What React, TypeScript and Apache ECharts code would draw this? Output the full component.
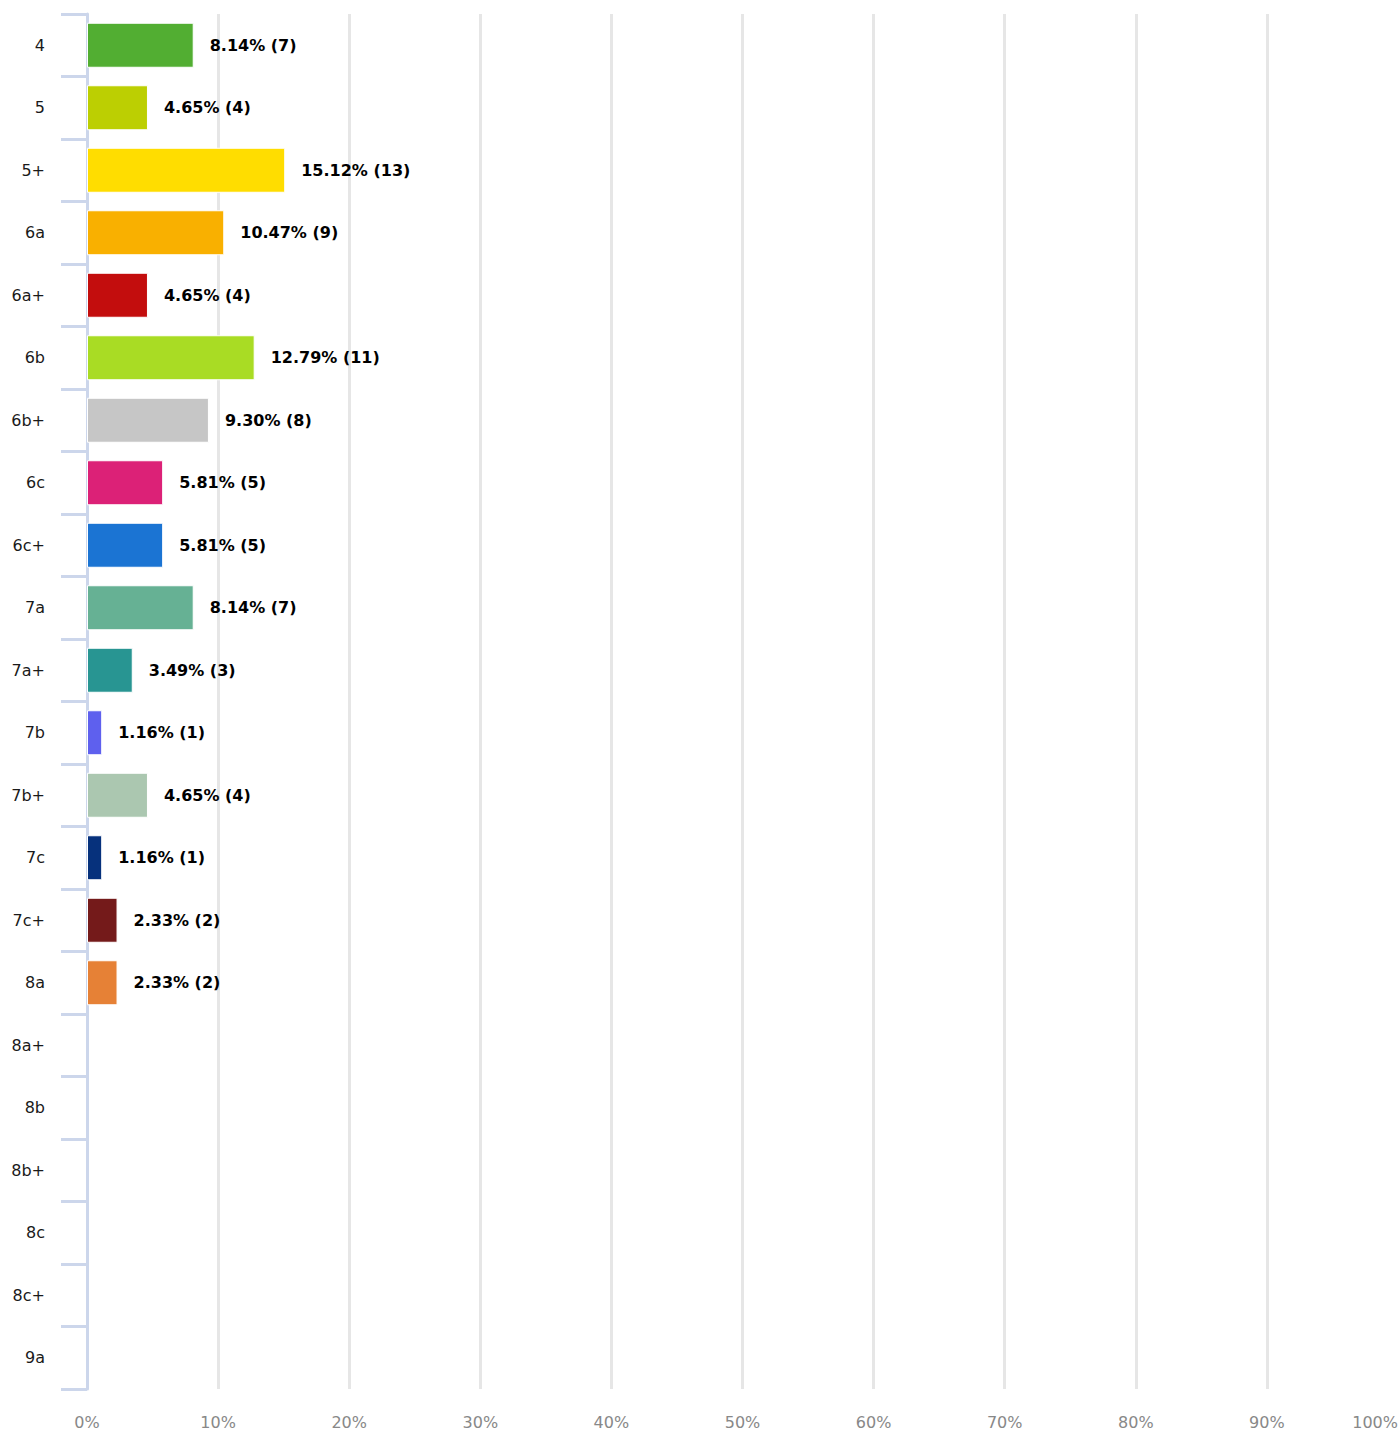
import React, { useEffect, useRef } from "react";
import * as echarts from "echarts";

const grades = ["4", "5", "5+", "6a", "6a+", "6b", "6b+", "6c", "6c+", "7a", "7a+", "7b", "7b+", "7c", "7c+", "8a", "8a+", "8b", "8b+", "8c", "8c+", "9a"];
const percents = [8.14, 4.65, 15.12, 10.47, 4.65, 12.79, 9.30, 5.81, 5.81, 8.14, 3.49, 1.16, 4.65, 1.16, 2.33, 2.33];
const counts = [7, 4, 13, 9, 4, 11, 8, 5, 5, 7, 3, 1, 4, 1, 2, 2];
const colors = ["#52ae32", "#bccf02", "#ffdd00", "#f9b000", "#c30d0d", "#a9dc24", "#c6c6c6", "#dc2177", "#1b74d3", "#66b194", "#289592", "#5e60ee", "#abc7b0", "#06317c", "#741a1a", "#e68136"];
const xTicks = [0, 10, 20, 30, 40, 50, 60, 70, 80, 90, 100];

const FONT = "'DejaVu Sans', Verdana, sans-serif";

export default function App() {
  const ref = useRef<HTMLDivElement>(null);
  useEffect(() => {
    if (!ref.current) return;
    const chart = echarts.init(ref.current, null, { renderer: "svg" });
    const data = grades.map((g, i) =>
      i < percents.length
        ? { value: percents[i], itemStyle: { color: colors[i] } }
        : { value: null as any }
    );
    chart.setOption({
      animation: false,
      grid: {
        left: 87,
        right: 0,
        top: 14,
        bottom: 43,
        containLabel: false,
        outerBoundsMode: "none",
      },
      xAxis: {
        type: "value",
        min: xTicks[0],
        max: xTicks[xTicks.length - 1],
        interval: 10,
        axisLine: { show: false },
        axisTick: { show: false },
        axisLabel: {
          formatter: "{value}%",
          color: "#888888",
          fontSize: 16,
          fontFamily: FONT,
          margin: 25,
          alignMaxLabel: "right",
        },
        splitLine: {
          show: true,
          showMaxLine: false,
          lineStyle: { color: "#e6e6e6", width: 3 },
        },
      },
      yAxis: {
        type: "category",
        data: grades,
        inverse: true,
        axisLine: { show: true, lineStyle: { color: "#ccd6eb", width: 3 } },
        axisTick: { show: true, length: 26, alignWithLabel: false, lineStyle: { color: "#ccd6eb", width: 3 } },
        axisLabel: {
          color: "#1a1a1a",
          fontSize: 16,
          fontFamily: FONT,
          margin: 42,
        },
        splitLine: { show: false },
      },
      series: [
        {
          type: "bar",
          data,
          barWidth: 45,
          itemStyle: { borderColor: "#ffffff", borderWidth: 1 },
          label: {
            show: true,
            position: "right",
            distance: 16,
            color: "#000000",
            fontWeight: "bold",
            fontSize: 16,
            fontFamily: FONT,
            formatter: (p: any) =>
              p.dataIndex < percents.length
                ? `${percents[p.dataIndex].toFixed(2)}% (${counts[p.dataIndex]})`
                : "",
          },
        },
      ],
    });
    return () => chart.dispose();
  }, []);
  return (
    <div
      ref={ref}
      style={{ position: "absolute", left: 0, top: 0, width: 1398, height: 1432 }}
    />
  );
}
